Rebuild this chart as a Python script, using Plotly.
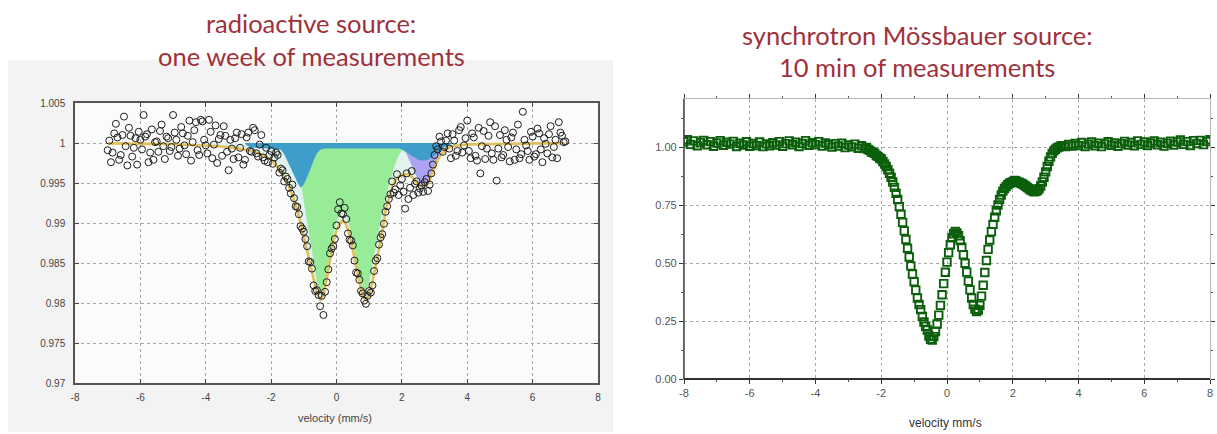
import plotly.graph_objects as go

# ---------------- data: left panel (radioactive source) ----------------
LEFT_X = [
    -7.0, -6.9, -6.8, -6.7, -6.6, -6.5, -6.4, -6.3, -6.2, -6.1,
    -6.0, -5.9, -5.8, -5.7, -5.6, -5.5, -5.4, -5.3, -5.2, -5.1,
    -5.0, -4.9, -4.8, -4.7, -4.6, -4.5, -4.4, -4.3, -4.2, -4.1,
    -4.0, -3.9, -3.8, -3.7, -3.6, -3.5, -3.4, -3.3, -3.2, -3.1,
    -3.0, -2.9, -2.8, -2.7, -2.6, -2.5, -2.4, -2.3, -2.2, -2.1,
    -2.0, -1.9, -1.8, -1.7, -1.6, -1.5, -1.4, -1.3, -1.2, -1.1,
    -1.0, -0.9, -0.8, -0.7, -0.6, -0.5, -0.4, -0.3, -0.2, -0.1,
    0.0, 0.1, 0.2, 0.3, 0.4, 0.5, 0.6, 0.7, 0.8, 0.9,
    1.0, 1.1, 1.2, 1.3, 1.4, 1.5, 1.6, 1.7, 1.8, 1.9,
    2.0, 2.1, 2.2, 2.3, 2.4, 2.5, 2.6, 2.7, 2.8, 2.9,
    3.0, 3.1, 3.2, 3.3, 3.4, 3.5, 3.6, 3.7, 3.8, 3.9,
    4.0, 4.1, 4.2, 4.3, 4.4, 4.5, 4.6, 4.7, 4.8, 4.9,
    5.0, 5.1, 5.2, 5.3, 5.4, 5.5, 5.6, 5.7, 5.8, 5.9,
    6.0, 6.1, 6.2, 6.3, 6.4, 6.5, 6.6, 6.7, 6.8, 6.9,
    7.0,
]

LEFT_DATA = [
    0.9991, 0.9976, 1.0012, 1.0007, 0.9985, 1.0033, 0.9972, 1.0009, 0.9994, 0.9973,
    1.0004, 1.0035, 1.0011, 0.9988, 0.9979, 1.0002, 1.0015, 0.9996, 1.0008, 0.9990,
    1.0035, 1.0004, 0.9993, 1.0012, 0.9986, 1.0028, 1.0001, 1.0026, 0.9985, 1.0027,
    0.9997, 1.0029, 0.9981, 1.0022, 1.0005, 0.9984, 1.0009, 0.9966, 0.9993, 1.0006,
    0.9982, 1.0011, 0.9979, 1.0013, 0.9989, 1.0016, 0.9983, 1.0010, 0.9978, 0.9976,
    0.9990, 0.9982, 0.9985, 0.9968, 0.9952, 0.9955, 0.9937, 0.9931, 0.9920, 0.9896,
    0.9889, 0.9871, 0.9851, 0.9822, 0.9816, 0.9796, 0.9785, 0.9826, 0.9862, 0.9871,
    0.9897, 0.9926, 0.9911, 0.9905, 0.9879, 0.9872, 0.9838, 0.9829, 0.9812, 0.9799,
    0.9815, 0.9822, 0.9853, 0.9873, 0.9886, 0.9914, 0.9930, 0.9952, 0.9942, 0.9935,
    0.9955, 0.9918, 0.9930, 0.9965, 0.9949, 0.9938, 0.9947, 0.9951, 0.9940, 0.9962,
    0.9985, 0.9992, 1.0002, 0.9995, 1.0012, 0.9981, 1.0003, 0.9990, 1.0020, 0.9997,
    1.0028, 0.9981, 1.0007, 0.9978, 0.9962, 1.0015, 0.9993, 1.0026, 0.9979, 0.9953,
    1.0010, 0.9985, 1.0004, 0.9977, 1.0013, 0.9992, 0.9981, 1.0039, 0.9997, 0.9979,
    1.0008, 0.9986, 1.0012, 0.9976, 0.9999, 1.0011, 0.9982, 1.0004, 1.0026, 1.0009,
    1.0002,
]

# second (interleaved) set of velocity channels
LEFT_X_B = [
    -6.95, -6.85, -6.75, -6.65, -6.55, -6.45, -6.35, -6.25, -6.15, -6.05,
    -5.95, -5.85, -5.75, -5.65, -5.55, -5.45, -5.35, -5.25, -5.15, -5.05,
    -4.95, -4.85, -4.75, -4.65, -4.55, -4.45, -4.35, -4.25, -4.15, -4.05,
    -3.95, -3.85, -3.75, -3.65, -3.55, -3.45, -3.35, -3.25, -3.15, -3.05,
    -2.95, -2.85, -2.75, -2.65, -2.55, -2.45, -2.35, -2.25, -2.15, -2.05,
    -1.95, -1.85, -1.75, -1.65, -1.55, -1.45, -1.35, -1.25, -1.15, -1.05,
    -0.95, -0.85, -0.75, -0.65, -0.55, -0.45, -0.35, -0.25, -0.15, -0.05,
    0.05, 0.15, 0.25, 0.35, 0.45, 0.55, 0.65, 0.75, 0.85, 0.95,
    1.05, 1.15, 1.25, 1.35, 1.45, 1.55, 1.65, 1.75, 1.85, 1.95,
    2.05, 2.15, 2.25, 2.35, 2.45, 2.55, 2.65, 2.75, 2.85, 2.95,
    3.05, 3.15, 3.25, 3.35, 3.45, 3.55, 3.65, 3.75, 3.85, 3.95,
    4.05, 4.15, 4.25, 4.35, 4.45, 4.55, 4.65, 4.75, 4.85, 4.95,
    5.05, 5.15, 5.25, 5.35, 5.45, 5.55, 5.65, 5.75, 5.85, 5.95,
    6.05, 6.15, 6.25, 6.35, 6.45, 6.55, 6.65, 6.75, 6.85, 6.95,
]
LEFT_DATA_B = [
    1.0003, 0.9988, 1.0024, 0.9979, 1.0010, 0.9996, 1.0019, 0.9983, 1.0006, 1.0014,
    0.9992, 1.0008, 0.9976, 1.0017, 1.0001, 0.9989, 1.0023, 0.9980, 1.0006, 0.9995,
    1.0013, 0.9984, 1.0020, 0.9997, 1.0009, 0.9978, 1.0016, 0.9991, 1.0029, 1.0004,
    0.9987, 1.0014, 0.9998, 0.9975, 1.0010, 1.0021, 0.9989, 1.0004, 0.9980, 1.0013,
    0.9994, 0.9973, 1.0007, 0.9990, 1.0019, 0.9987, 0.9998, 0.9982, 0.9994, 0.9985,
    0.9974, 0.9988, 0.9963, 0.9966, 0.9958, 0.9944, 0.9948, 0.9921, 0.9911, 0.9893,
    0.9880, 0.9852, 0.9843, 0.9815, 0.9810, 0.9809, 0.9814, 0.9842, 0.9868, 0.9880,
    0.9917, 0.9912, 0.9919, 0.9887, 0.9878, 0.9853, 0.9837, 0.9815, 0.9803, 0.9809,
    0.9813, 0.9840, 0.9856, 0.9882, 0.9899, 0.9921, 0.9936, 0.9938, 0.9961, 0.9947,
    0.9939, 0.9962, 0.9944, 0.9935, 0.9952, 0.9943, 0.9939, 0.9955, 0.9948, 0.9973,
    0.9996, 1.0008, 0.9989, 1.0003, 0.9993, 1.0011, 0.9984, 1.0016, 0.9988, 1.0006,
    0.9990, 1.0012, 0.9984, 1.0019, 0.9996, 0.9980, 1.0009, 0.9987, 1.0021, 0.9993,
    0.9982, 1.0016, 0.9995, 1.0007, 0.9979, 1.0023, 0.9986, 1.0004, 0.9990, 1.0014,
    0.9983, 1.0018, 0.9992, 1.0006, 0.9987, 1.0021, 0.9995, 0.9981, 1.0013, 1.0001,
]

LEFT_FIT = [
    0.99995, 0.99995, 0.99995, 0.99994, 0.99994, 0.99994, 0.99993, 0.99993, 0.99993, 0.99992,
    0.99992, 0.99991, 0.99991, 0.99990, 0.99990, 0.99989, 0.99988, 0.99988, 0.99987, 0.99986,
    0.99985, 0.99984, 0.99983, 0.99982, 0.99981, 0.99980, 0.99978, 0.99977, 0.99975, 0.99973,
    0.99971, 0.99969, 0.99966, 0.99963, 0.99960, 0.99957, 0.99953, 0.99949, 0.99944, 0.99939,
    0.99933, 0.99926, 0.99918, 0.99909, 0.99899, 0.99887, 0.99873, 0.99857, 0.99838, 0.99815,
    0.99788, 0.9975, 0.9970, 0.9964, 0.9957, 0.9950, 0.9940, 0.9929, 0.9916, 0.9901,
    0.9884, 0.9866, 0.9847, 0.9829, 0.9812, 0.9804, 0.9810, 0.9830, 0.9855, 0.9876,
    0.9891, 0.9900, 0.9903, 0.9898, 0.9885, 0.9866, 0.9845, 0.9824, 0.9808, 0.9804,
    0.9810, 0.9826, 0.9846, 0.9868, 0.9889, 0.9915, 0.9932, 0.9945, 0.9953, 0.9958,
    0.9960, 0.9961, 0.9961, 0.9958, 0.9953, 0.9948, 0.9945, 0.9945, 0.9949, 0.9958,
    0.9969, 0.9979, 0.9986, 0.9990, 0.9993, 0.9995, 0.99963, 0.99970, 0.99975, 0.99979,
    0.99982, 0.99983, 0.99984, 0.99985, 0.99986, 0.99987, 0.99988, 0.99988, 0.99989, 0.99990,
    0.99990, 0.99991, 0.99991, 0.99992, 0.99992, 0.99993, 0.99993, 0.99993, 0.99994, 0.99994,
    0.99994, 0.99995, 0.99995, 0.99995, 0.99995, 0.99996, 0.99996, 0.99996, 0.99996, 0.99996,
    0.99997,
]

# sub-spectrum 1 (blue)
BLUE_X = [
    -2.8, -2.7, -2.6, -2.5, -2.4, -2.3, -2.2, -2.1, -2.0, -1.9,
    -1.8, -1.7, -1.6, -1.5, -1.4, -1.3, -1.2, -1.1, -1.0, -0.9,
    -0.8, -0.7, -0.6, -0.5, -0.4, -0.3, -0.2, -0.1, 0.0, 0.1,
    0.2, 0.3, 0.4, 0.5, 0.6, 0.7, 0.8, 0.9, 1.0, 1.1,
    1.2, 1.3, 1.4, 1.5, 1.6, 1.7, 1.8, 1.9, 2.0, 2.1,
    2.2, 2.3, 2.4, 2.5, 2.6, 2.7, 2.8, 2.9, 3.0, 3.1,
    3.2, 3.3, 3.4, 3.5, 3.6,
]
BLUE_Y = [
    0.99990, 0.99960, 0.99945, 0.99940, 0.99938, 0.99936, 0.99934, 0.99932, 0.99930, 0.99928,
    0.99925, 0.99915, 0.99860, 0.99780, 0.99690, 0.99600, 0.99510, 0.99440, 0.99480, 0.99570,
    0.99670, 0.99780, 0.99870, 0.99915, 0.99928, 0.99930, 0.99930, 0.99930, 0.99930, 0.99930,
    0.99930, 0.99930, 0.99930, 0.99930, 0.99930, 0.99930, 0.99930, 0.99930, 0.99930, 0.99930,
    0.99930, 0.99930, 0.99930, 0.99930, 0.99930, 0.99930, 0.99930, 0.99930, 0.99920, 0.99900,
    0.99870, 0.99840, 0.99810, 0.99790, 0.99780, 0.99780, 0.99790, 0.99810, 0.99840, 0.99880,
    0.99920, 0.99950, 0.99970, 0.99985, 1.00000,
]

# sub-spectrum 2 (green doublet)
GREEN_X = [
    -1.3, -1.2, -1.1, -1.0, -0.9, -0.8, -0.7, -0.6, -0.5, -0.4,
    -0.3, -0.2, -0.1, 0.0, 0.1, 0.2, 0.3, 0.4, 0.5, 0.6,
    0.7, 0.8, 0.9, 1.0, 1.1, 1.2, 1.3, 1.4, 1.5, 1.6,
    1.7, 1.8, 1.9, 2.0, 2.1, 2.2, 2.3,
]
GREEN_Y = [
    0.99930, 0.99750, 0.99530, 0.99270, 0.99010, 0.98750, 0.98490, 0.98270, 0.98140, 0.98180,
    0.98380, 0.98640, 0.98860, 0.99010, 0.99110, 0.99150, 0.99100, 0.98960, 0.98760, 0.98530,
    0.98320, 0.98180, 0.98150, 0.98260, 0.98480, 0.98730, 0.98950, 0.99140, 0.99320, 0.99480,
    0.99620, 0.99740, 0.99840, 0.99910, 0.99950, 0.99980, 1.00000,
]

# sub-spectrum 3 (purple)
PURPLE_X = [1.9, 2.0, 2.1, 2.2, 2.3, 2.4, 2.5, 2.6, 2.7, 2.8, 2.9, 3.0, 3.1, 3.2, 3.3, 3.4]
PURPLE_Y = [
    0.99990, 0.99960, 0.99900, 0.99820, 0.99720, 0.99620, 0.99540, 0.99480,
    0.99460, 0.99490, 0.99580, 0.99700, 0.99820, 0.99910, 0.99960, 0.99990,
]

LEFT_XTICKS = [-8, -6, -4, -2, 0, 2, 4, 6, 8]
LEFT_XTICKTEXT = ["-8", "-6", "-4", "-2", "0", "2", "4", "6", "8"]
LEFT_YTICKS = [0.97, 0.975, 0.98, 0.985, 0.99, 0.995, 1.0, 1.005]
LEFT_YTICKTEXT = ["0.97", "0.975", "0.98", "0.985", "0.99", "0.995", "1", "1.005"]

# ---------------- data: right panel (synchrotron source) ----------------
RIGHT_X = [
    -8.0, -7.9, -7.8, -7.7, -7.6, -7.5, -7.4, -7.3, -7.2, -7.1,
    -7.0, -6.9, -6.8, -6.7, -6.6, -6.5, -6.4, -6.3, -6.2, -6.1,
    -6.0, -5.9, -5.8, -5.7, -5.6, -5.5, -5.4, -5.3, -5.2, -5.1,
    -5.0, -4.9, -4.8, -4.7, -4.6, -4.5, -4.4, -4.3, -4.2, -4.1,
    -4.0, -3.9, -3.8, -3.7, -3.6, -3.5, -3.4, -3.3, -3.2, -3.1,
    -3.0, -2.9, -2.8, -2.7, -2.6,
    -2.50, -2.45, -2.40, -2.35, -2.30, -2.25, -2.20, -2.15, -2.10, -2.05,
    -2.00, -1.95, -1.90, -1.85, -1.80, -1.75, -1.70, -1.65, -1.60, -1.55,
    -1.50, -1.45, -1.40, -1.35, -1.30, -1.25, -1.20, -1.15, -1.10, -1.05,
    -1.00, -0.95, -0.90, -0.85, -0.80, -0.75, -0.70, -0.65, -0.60, -0.55,
    -0.50, -0.45, -0.40, -0.35, -0.30, -0.25, -0.20, -0.15, -0.10, -0.05,
    0.00, 0.05, 0.10, 0.15, 0.20, 0.25, 0.30, 0.35, 0.40, 0.45,
    0.50, 0.55, 0.60, 0.65, 0.70, 0.75, 0.80, 0.85, 0.90, 0.95,
    1.00, 1.05, 1.10, 1.15, 1.20, 1.25, 1.30, 1.35, 1.40, 1.45,
    1.50, 1.55, 1.60, 1.65, 1.70, 1.75, 1.80, 1.85, 1.90, 1.95,
    2.00, 2.05, 2.10, 2.15, 2.20, 2.25, 2.30, 2.35, 2.40, 2.45,
    2.50, 2.55, 2.60, 2.65, 2.70, 2.75, 2.80, 2.85, 2.90, 2.95,
    3.00, 3.05, 3.10, 3.15, 3.20, 3.25, 3.30, 3.35, 3.40, 3.45,
    3.50,
    3.6, 3.7, 3.8, 3.9, 4.0, 4.1, 4.2, 4.3, 4.4, 4.5,
    4.6, 4.7, 4.8, 4.9, 5.0, 5.1, 5.2, 5.3, 5.4, 5.5,
    5.6, 5.7, 5.8, 5.9, 6.0, 6.1, 6.2, 6.3, 6.4, 6.5,
    6.6, 6.7, 6.8, 6.9, 7.0, 7.1, 7.2, 7.3, 7.4, 7.5,
    7.6, 7.7, 7.8, 7.9, 8.0,
]
RIGHT_Y = [
    1.025, 1.034, 1.014, 1.029, 1.008, 1.022, 1.031, 1.012, 1.026, 1.006,
    1.020, 1.030, 1.010, 1.023, 1.015, 1.027, 1.005, 1.019, 1.011, 1.025,
    1.006, 1.018, 1.009, 1.024, 1.004, 1.016, 1.008, 1.021, 1.011, 1.026,
    1.006, 1.017, 1.029, 1.012, 1.023, 1.005, 1.018, 1.030, 1.010, 1.021,
    1.013, 1.026, 1.007, 1.020, 1.012, 1.002, 1.017, 1.007, 1.019, 1.000,
    1.011, 1.003, 1.015, 0.997, 1.008,
    0.996, 1.001, 0.992, 0.988, 0.981, 0.979, 0.975, 0.966, 0.962, 0.955,
    0.951, 0.940, 0.929, 0.918, 0.904, 0.889, 0.872, 0.851, 0.828, 0.803,
    0.776, 0.745, 0.712, 0.677, 0.640, 0.603, 0.565, 0.527, 0.489, 0.454,
    0.420, 0.384, 0.350, 0.322, 0.300, 0.270, 0.246, 0.228, 0.212, 0.186,
    0.172, 0.168, 0.183, 0.205, 0.238, 0.276, 0.318, 0.364, 0.412, 0.461,
    0.505, 0.546, 0.580, 0.610, 0.628, 0.638, 0.631, 0.619, 0.598, 0.570,
    0.537, 0.500, 0.462, 0.423, 0.385, 0.350, 0.322, 0.302, 0.292, 0.298,
    0.318, 0.358, 0.405, 0.460, 0.512, 0.560, 0.601, 0.637, 0.668, 0.699,
    0.727, 0.752, 0.776, 0.795, 0.812, 0.823, 0.832, 0.840, 0.846, 0.849,
    0.851, 0.858, 0.856, 0.852, 0.849, 0.846, 0.843, 0.838, 0.833, 0.827,
    0.822, 0.817, 0.813, 0.809, 0.811, 0.814, 0.822, 0.834, 0.852, 0.872,
    0.895, 0.918, 0.941, 0.960, 0.975, 0.986, 0.993, 0.999, 1.002, 1.006,
    1.008,
    1.004, 1.014, 1.007, 1.018, 1.009, 1.022, 1.005, 1.015, 1.024, 1.008,
    1.019, 1.004, 1.016, 1.025, 1.010, 1.020, 1.006, 1.017, 1.027, 1.011,
    1.022, 1.008, 1.029, 1.014, 1.024, 1.009, 1.020, 1.029, 1.012, 1.023,
    1.007, 1.019, 1.028, 1.011, 1.024, 1.033, 1.014, 1.026, 1.009, 1.030,
    1.018, 1.031, 1.013, 1.026, 1.034,
]

RIGHT_XTICKS = [-8, -6, -4, -2, 0, 2, 4, 6, 8]
RIGHT_XTICKTEXT = ["-8", "-6", "-4", "-2", "0", "2", "4", "6", "8"]
RIGHT_YTICKS = [0.0, 0.25, 0.5, 0.75, 1.0]
RIGHT_YTICKTEXT = ["0.00", "0.25", "0.50", "0.75", "1.00"]

assert len(LEFT_X) == len(LEFT_DATA) == len(LEFT_FIT)
assert len(LEFT_X_B) == len(LEFT_DATA_B)
assert len(BLUE_X) == len(BLUE_Y)
assert len(GREEN_X) == len(GREEN_Y)
assert len(PURPLE_X) == len(PURPLE_Y)
assert len(RIGHT_X) == len(RIGHT_Y)

# ---------------- figure ----------------
W, H = 1217, 434


def px(x):
    return x / W


def py(y):
    return 1 - y / H


fig = go.Figure()


def add_fill(xs, ys, color):
    fig.add_trace(go.Scatter(x=xs, y=[1.0] * len(xs), mode="lines", line=dict(width=0),
                             xaxis="x", yaxis="y", showlegend=False, hoverinfo="skip"))
    fig.add_trace(go.Scatter(x=xs, y=ys, mode="lines", line=dict(width=0), fill="tonexty",
                             fillcolor=color, xaxis="x", yaxis="y", showlegend=False,
                             hoverinfo="skip"))


add_fill(LEFT_X, LEFT_FIT, "#e1f3ee")
add_fill(GREEN_X, GREEN_Y, "#98ec98")
add_fill(PURPLE_X, PURPLE_Y, "#aca4f2")
add_fill(BLUE_X, BLUE_Y, "#3f9dca")

fig.add_trace(go.Scatter(x=LEFT_X, y=LEFT_FIT, mode="lines",
                         line=dict(color="#e2bf58", width=2.6),
                         xaxis="x", yaxis="y", showlegend=False))
fig.add_trace(go.Scatter(x=LEFT_X + LEFT_X_B, y=LEFT_DATA + LEFT_DATA_B, mode="markers",
                         marker=dict(symbol="circle-open", size=7, color="#1e1e1e",
                                     line=dict(width=1.0)),
                         xaxis="x", yaxis="y", showlegend=False))

fig.add_trace(go.Scatter(x=RIGHT_X, y=RIGHT_Y, mode="markers",
                         marker=dict(symbol="square-open", size=7.5, color="#0b5f0b",
                                     line=dict(width=1.9)),
                         xaxis="x2", yaxis="y2", showlegend=False))

tick_font_l = dict(family="Liberation Sans, Arial, sans-serif", size=10, color="#444")
tick_font_r = dict(family="Liberation Sans, Arial, sans-serif", size=11, color="#555")
grid_common = dict(showgrid=True, gridcolor="#a8a8a8", griddash="dot", gridwidth=1, zeroline=False)

fig.update_layout(
    width=W, height=H,
    margin=dict(l=0, r=0, t=0, b=0, autoexpand=False),
    paper_bgcolor="white",
    plot_bgcolor="rgba(0,0,0,0)",
    showlegend=False,
    xaxis=dict(domain=[px(75), px(598)], anchor="y", range=[-8, 8],
               tickmode="array", tickvals=LEFT_XTICKS, ticktext=LEFT_XTICKTEXT,
               ticks="inside", ticklen=4, tickcolor="#444", tickfont=tick_font_l,
               ticklabelstandoff=4,
               showline=True, linecolor="#555", linewidth=1.5, mirror="ticks",
               **grid_common),
    yaxis=dict(domain=[py(383), py(103)], anchor="x", range=[0.97, 1.005],
               tickmode="array", tickvals=LEFT_YTICKS, ticktext=LEFT_YTICKTEXT,
               ticks="inside", ticklen=4, tickcolor="#444", tickfont=tick_font_l,
               ticklabelstandoff=6,
               showline=True, linecolor="#555", linewidth=1.5, mirror="ticks",
               **grid_common),
    xaxis2=dict(domain=[px(684), px(1210)], anchor="y2", range=[-8, 8],
                tickmode="array", tickvals=RIGHT_XTICKS, ticktext=RIGHT_XTICKTEXT,
                ticks="outside", ticklen=4, tickcolor="#333", tickfont=tick_font_r,
                minor=dict(dtick=1, tick0=-7, ticks="outside", ticklen=2, tickcolor="#555"),
                showline=True, linecolor="#b5b5b5", linewidth=1.2, mirror="ticks",
                **grid_common),
    yaxis2=dict(domain=[py(379), py(99)], anchor="x2", range=[0, 1.21],
                tickmode="array", tickvals=RIGHT_YTICKS, ticktext=RIGHT_YTICKTEXT,
                ticks="outside", ticklen=4, tickcolor="#333", tickfont=tick_font_r,
                minor=dict(dtick=0.125, tick0=0, ticks="outside", ticklen=2, tickcolor="#555"),
                showline=True, linecolor="#b5b5b5", linewidth=1.2, mirror="ticks",
                **grid_common),
    shapes=[
        dict(type="rect", xref="paper", yref="paper", x0=px(8), x1=px(613), y0=py(432), y1=py(60),
             fillcolor="#f3f3f3", line=dict(width=0), layer="below"),
        dict(type="rect", xref="paper", yref="paper", x0=px(75), x1=px(598), y0=py(383), y1=py(103),
             fillcolor="#fbfbfb", line=dict(width=0), layer="below"),
        # darker left and bottom frame of the right panel
        dict(type="line", xref="paper", yref="paper", x0=px(684), x1=px(684), y0=py(379), y1=py(99),
             line=dict(color="#444", width=1.5), layer="above"),
        dict(type="line", xref="paper", yref="paper", x0=px(684), x1=px(1210), y0=py(379), y1=py(379),
             line=dict(color="#333", width=2), layer="above"),
    ],
)

title_font = dict(family="Lato, Carlito, sans-serif", size=25.5, color="#a0303a")
annotations = [
    dict(text="radioactive source:", x=px(311), y=py(23)),
    dict(text="one week of measurements", x=px(311), y=py(56)),
    dict(text="synchrotron Mössbauer source:", x=px(917), y=py(35)),
    dict(text="10 min of measurements", x=px(917), y=py(67)),
]
for a in annotations:
    fig.add_annotation(xref="paper", yref="paper", xanchor="center", yanchor="middle",
                       showarrow=False, font=title_font, **a)

fig.add_annotation(text="velocity (mm/s)", xref="paper", yref="paper", x=px(335), y=py(418),
                   xanchor="center", yanchor="middle", showarrow=False,
                   font=dict(family="Liberation Sans, Arial, sans-serif", size=11, color="#444"))
fig.add_annotation(text="velocity mm/s", xref="paper", yref="paper", x=px(945), y=py(423),
                   xanchor="center", yanchor="middle", showarrow=False,
                   font=dict(family="Liberation Sans, Arial, sans-serif", size=12, color="#333"))

fig.write_html("out.html")
